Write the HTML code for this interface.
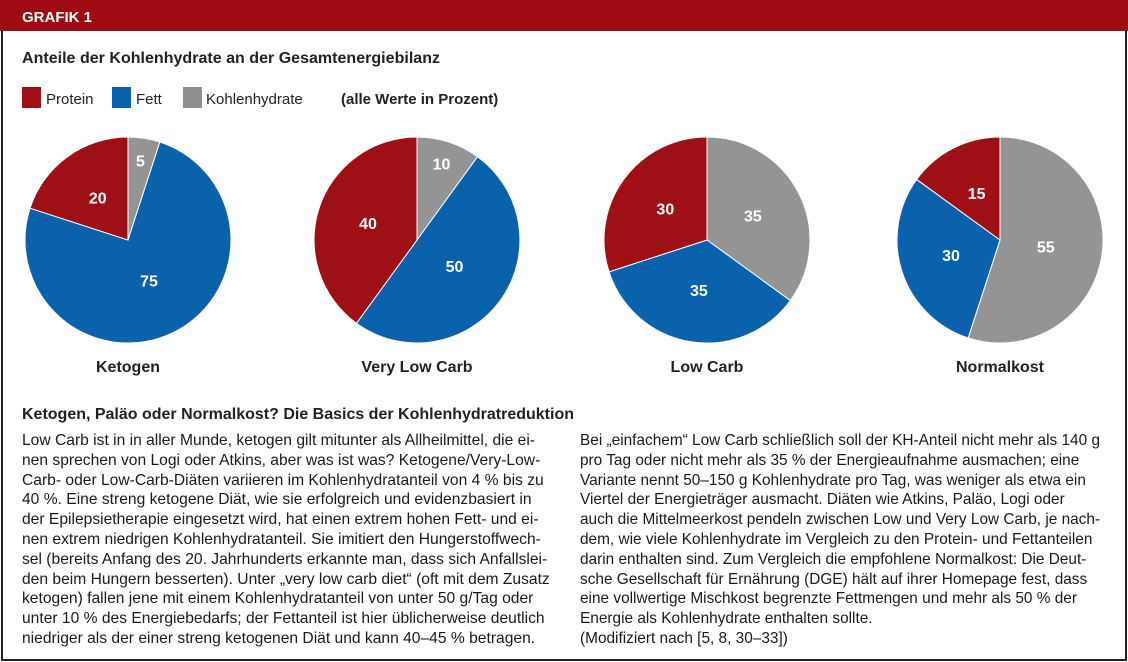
<!DOCTYPE html>
<html><head><meta charset="utf-8"><style>
body{margin:0;background:#fff;font-family:"Liberation Sans",sans-serif}
#wrap{position:relative;width:1128px;height:662px;overflow:hidden;background:#fff}
.ln{position:absolute;white-space:nowrap;font-size:16px;color:#1a1a1a;transform-origin:0 0;line-height:20px}
</style></head><body>
<div id="wrap">
<svg id="svg" width="1128" height="662" style="position:absolute;left:0;top:0">
<rect x="2" y="0" width="1124" height="660" fill="none" stroke="#222" stroke-width="2"/>
<rect x="0" y="0" width="1128" height="31" fill="#9e0b12"/>
<text x="22" y="22" font-size="15" font-weight="bold" fill="#fff">GRAFIK 1</text>
<text x="22" y="63" font-size="16" font-weight="bold" fill="#222" textLength="418">Anteile der Kohlenhydrate an der Gesamtenergiebilanz</text>
<g>
<rect x="22" y="87" width="19" height="21" fill="#9e1016"/>
<text x="46" y="104" font-size="15" fill="#222">Protein</text>
<rect x="112" y="87" width="19" height="21" fill="#0a62ad"/>
<text x="136" y="104" font-size="15" fill="#222">Fett</text>
<rect x="183" y="87" width="19" height="21" fill="#8f8f8f"/>
<text x="206" y="104" font-size="15" fill="#222">Kohlenhydrate</text>
<text x="341" y="104" font-size="15" font-weight="bold" fill="#222">(alle Werte in Prozent)</text>
</g>
<g id="pies"></g>
<text x="22" y="419" font-size="16" font-weight="bold" fill="#222" textLength="552">Ketogen, Paläo oder Normalkost? Die Basics der Kohlenhydratreduktion</text>
</svg>
<div id="col1"></div>
<div id="col2"></div>
</div>
<script>
const categories=["Ketogen","Very Low Carb","Low Carb","Normalkost"];
const kohlenhydrate=[5,10,35,55];
const fett=[75,50,35,30];
const protein=[20,40,30,15];
const colors=["#959495","#0a62ad","#9e1016"];
const seriesNames=["kohlenhydrate","fett","protein"];
const ns="http://www.w3.org/2000/svg";
const g=document.getElementById('pies');
const cxs=[128,417,707,1000],cy=240,R=103;
function pt(a,r,cx){return [cx+r*Math.sin(a),cy-r*Math.cos(a)];}
categories.forEach((c,i)=>{
  const vals=[kohlenhydrate[i],fett[i],protein[i]];
  const tot=vals.reduce((a,b)=>a+b,0);
  let a0=0;const cx=cxs[i];
  vals.forEach((v,j)=>{
    const a1=a0+v/tot*2*Math.PI;
    const p0=pt(a0,R,cx),p1=pt(a1,R,cx);
    const path=document.createElementNS(ns,'path');
    path.setAttribute('d',`M${cx},${cy}L${p0[0]},${p0[1]}A${R},${R} 0 ${a1-a0>Math.PI?1:0} 1 ${p1[0]},${p1[1]}Z`);
    path.setAttribute('fill',colors[j]);path.setAttribute('stroke','#fff');path.setAttribute('stroke-width','1');
    
    
    g.appendChild(path);
    const m=(a0+a1)/2,d=v<=12?R*0.77:(v>=50?R*0.45:R*0.5);
    const lp=pt(m,d,cx);
    const t=document.createElementNS(ns,'text');
    t.setAttribute('x',lp[0]);t.setAttribute('y',lp[1]+5);t.setAttribute('text-anchor','middle');
    t.setAttribute('font-size','16');t.setAttribute('font-weight','bold');t.setAttribute('fill','#fff');
    t.textContent=v;
    
    
    g.appendChild(t);
    a0=a1;
  });
  const l=document.createElementNS(ns,'text');
  l.setAttribute('x',cx);l.setAttribute('y',372);l.setAttribute('text-anchor','middle');
  l.setAttribute('font-size','16');l.setAttribute('font-weight','bold');l.setAttribute('fill','#222');
  l.textContent=c;
  
  
  g.appendChild(l);
});
const left=["Low Carb ist in in aller Munde, ketogen gilt mitunter als Allheilmittel, die ei-",
"nen sprechen von Logi oder Atkins, aber was ist was? Ketogene/Very-Low-",
"Carb- oder Low-Carb-Diäten variieren im Kohlenhydratanteil von 4 % bis zu",
"40 %. Eine streng ketogene Diät, wie sie erfolgreich und evidenzbasiert in",
"der Epilepsietherapie eingesetzt wird, hat einen extrem hohen Fett- und ei-",
"nen extrem niedrigen Kohlenhydratanteil. Sie imitiert den Hungerstoffwech-",
"sel (bereits Anfang des 20. Jahrhunderts erkannte man, dass sich Anfallslei-",
"den beim Hungern besserten). Unter „very low carb diet“ (oft mit dem Zusatz",
"ketogen) fallen jene mit einem Kohlenhydratanteil von unter 50 g/Tag oder",
"unter 10 % des Energiebedarfs; der Fettanteil ist hier üblicherweise deutlich",
"niedriger als der einer streng ketogenen Diät und kann 40–45 % betragen."];
const right=["Bei „einfachem“ Low Carb schließlich soll der KH-Anteil nicht mehr als 140 g",
"pro Tag oder nicht mehr als 35 % der Energieaufnahme ausmachen; eine",
"Variante nennt 50–150 g Kohlenhydrate pro Tag, was weniger als etwa ein",
"Viertel der Energieträger ausmacht. Diäten wie Atkins, Paläo, Logi oder",
"auch die Mittelmeerkost pendeln zwischen Low und Very Low Carb, je nach-",
"dem, wie viele Kohlenhydrate im Vergleich zu den Protein- und Fettanteilen",
"darin enthalten sind. Zum Vergleich die empfohlene Normalkost: Die Deut-",
"sche Gesellschaft für Ernährung (DGE) hält auf ihrer Homepage fest, dass",
"eine vollwertige Mischkost begrenzte Fettmengen und mehr als 50 % der",
"Energie als Kohlenhydrate enthalten sollte.",
"(Modifiziert nach [5, 8, 30–33])"];
const wrap=document.getElementById('wrap');
function put(lines,x,target){
  const els=lines.map((s,k)=>{const d=document.createElement('div');d.className='ln';d.textContent=s;
    d.style.left=x+'px';d.style.top=(431+k*19.8)+'px';
    
    
    wrap.appendChild(d);return d;});
  const sc=target/els[0].getBoundingClientRect().width;
  els.forEach(d=>d.style.transform='scaleX('+sc+')');
}
put(left,22,513);
put(right,580,520);
</script>
</body></html>
